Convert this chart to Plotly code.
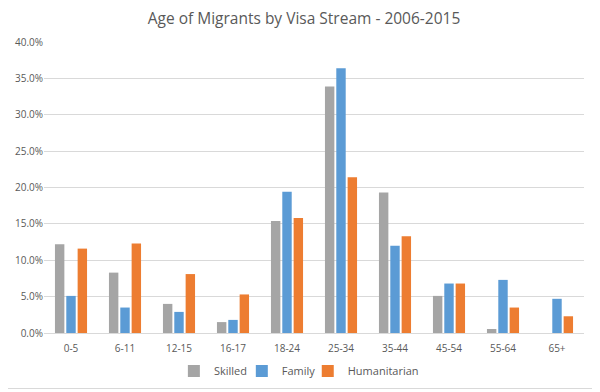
import plotly.graph_objects as go

categories = ["0-5", "6-11", "12-15", "16-17", "18-24", "25-34", "35-44", "45-54", "55-64", "65+"]
skilled = [12.2, 8.3, 4.0, 1.5, 15.4, 33.9, 19.3, 5.1, 0.55, 0.0]
family = [5.1, 3.5, 2.9, 1.8, 19.4, 36.4, 12.0, 6.8, 7.3, 4.7]
humanitarian = [11.6, 12.3, 8.1, 5.3, 15.8, 21.4, 13.3, 6.8, 3.5, 2.3]
y_ticks = [0, 0.05, 0.10, 0.15, 0.20, 0.25, 0.30, 0.35, 0.40]

series = [("Skilled", skilled, "#A5A5A5"), ("Family", family, "#5B9BD5"), ("Humanitarian", humanitarian, "#ED7D31")]
legend_ids = ["legend", "legend2", "legend3"]

W, H = 592, 384  # page body adds an 8px offset
L, R, T, B = 36, 15.5, 34, 59
pw, ph = W - L - R, H - T - B


def px_x(page_x):
    return (page_x - 8 - L) / pw


def px_y(page_y):
    return (H - B - (page_y - 8)) / ph


fig = go.Figure()
for (name, vals, color), lid in zip(series, legend_ids):
    fig.add_trace(go.Bar(x=categories, y=[v / 100 for v in vals], name=name, marker_color=color,
                         marker_line_width=0, legend=lid, showlegend=True))

font_family = "Open Sans, Liberation Sans, sans-serif"
legend_lefts = [174, 242, 308]
legend_common = dict(orientation="h", xanchor="left", yanchor="middle", y=px_y(371),
                     font=dict(family=font_family, size=11, color="#595959"),
                     bgcolor="rgba(255,255,255,0)", borderwidth=0)

fig.update_layout(
    width=W, height=H,
    showlegend=True,
    margin=dict(l=L, r=R, t=T, b=B, autoexpand=False),
    paper_bgcolor="white", plot_bgcolor="white",
    title=dict(text="Age of Migrants by Visa Stream - 2006-2015", x=0.5, xanchor="center",
               y=1 - 11 / H, yanchor="middle",
               font=dict(family=font_family, size=15.5, color="#595959")),
    barmode="group", bargap=0.37, bargroupgap=0.17,
    font=dict(family=font_family, size=10, color="#595959"),
    legend=dict(x=px_x(legend_lefts[0]), **legend_common),
    legend2=dict(x=px_x(legend_lefts[1]), **legend_common),
    legend3=dict(x=px_x(legend_lefts[2]), **legend_common),
    xaxis=dict(showgrid=False, showline=True, linecolor="#D9D9D9", ticks="", tickfont=dict(size=10),
               automargin=False, ticklabelstandoff=6),
    yaxis=dict(range=[0, 0.40], tickvals=y_ticks, tickformat=".1%", showgrid=True, gridcolor="#D9D9D9",
               zeroline=False, showline=False, ticks="", tickfont=dict(size=10), automargin=False),
    shapes=[
        dict(type="line", xref="paper", yref="paper", x0=px_x(595.5), x1=px_x(595.5), y0=px_y(392), y1=px_y(0),
             line=dict(color="#D9D9D9", width=1), layer="below"),
        dict(type="line", xref="paper", yref="paper", x0=px_x(0), x1=px_x(595.5), y0=px_y(388.5), y1=px_y(388.5),
             line=dict(color="#D9D9D9", width=1), layer="below"),
    ],
)

fig.write_html("out.html")
